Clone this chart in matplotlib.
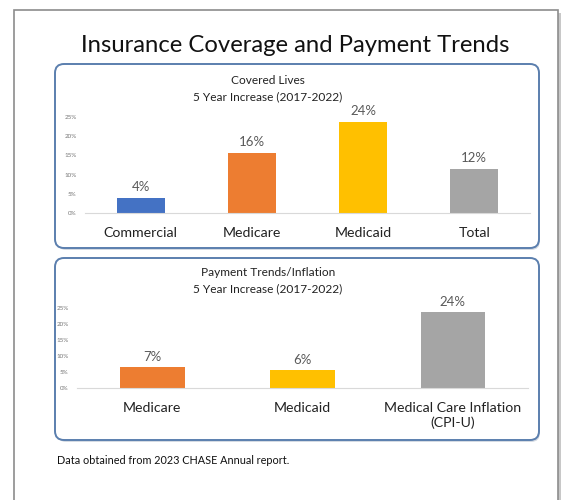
import matplotlib.pyplot as plt
from matplotlib.patches import FancyBboxPatch, Rectangle
from matplotlib.ticker import PercentFormatter

plt.rcParams['font.family'] = ['Lato', 'DejaVu Sans']

# covered lives, 5 year increase
lives_cats = ['Commercial', 'Medicare', 'Medicaid', 'Total']
lives_vals = [3.9, 15.6, 23.7, 11.5]
lives_labels = ['4%', '16%', '24%', '12%']
lives_colors = ['#4472C4', '#ED7D31', '#FFC000', '#A5A5A5']

# payment trends / inflation
pay_cats = ['Medicare', 'Medicaid', 'Medical Care Inflation\n(CPI-U)']
pay_vals = [6.6, 5.6, 23.7]
pay_labels = ['7%', '6%', '24%']
pay_colors = ['#ED7D31', '#FFC000', '#A5A5A5']

ticks = [0, 5, 10, 15, 20, 25]

fig = plt.figure(figsize=(5.76, 5), dpi=100)

# background layer in pixel coords
bg = fig.add_axes([0, 0, 1, 1])
bg.set_xlim(0, 576)
bg.set_ylim(500, 0)
bg.axis('off')
bg.add_patch(Rectangle((17, 13), 544, 500, facecolor='#c8c8c8', edgecolor='none'))
bg.add_patch(Rectangle((14, 10), 544, 500, facecolor='white', edgecolor='#8c8c8c', lw=1.2))
for y0, y1 in [(64, 248), (258, 440)]:
    bg.add_patch(FancyBboxPatch((57, y0 + 2), 483, y1 - y0, boxstyle='round,pad=0,rounding_size=9',
                                facecolor='#d5dbe3', edgecolor='none'))
    bg.add_patch(FancyBboxPatch((55, y0), 484, y1 - y0, boxstyle='round,pad=0,rounding_size=9',
                                facecolor='white', edgecolor='#5b7fae', lw=1.4))
bg.text(295, 45, 'Insurance Coverage and Payment Trends', fontsize=17.2, ha='center', va='center', color='#111111')
bg.text(268, 81, 'Covered Lives', fontsize=8.6, ha='center', va='center', color='#222222')
bg.text(268, 97, '5 Year Increase (2017-2022)', fontsize=8.6, ha='center', va='center', color='#222222')
bg.text(268, 272, 'Payment Trends/Inflation', fontsize=8.6, ha='center', va='center', color='#222222')
bg.text(268, 289, '5 Year Increase (2017-2022)', fontsize=8.6, ha='center', va='center', color='#222222')
bg.text(57, 461, 'Data obtained from 2023 CHASE Annual report.', fontsize=7.8, ha='left', va='center', color='#111111')


def bars(ax, cats, vals, labels, colors):
    x = range(len(cats))
    ax.bar(x, vals, width=0.43, color=colors)
    for i, v in enumerate(vals):
        ax.text(i, v + 1.3, labels[i], ha='center', va='bottom', fontsize=9.5, color='#595959')
    ax.set_xlim(-0.5, len(cats) - 0.5)
    ax.set_ylim(0, 25)
    ax.set_yticks(ticks)
    ax.yaxis.set_major_formatter(PercentFormatter(decimals=0))
    ax.set_xticks(list(x))
    ax.set_xticklabels(cats, fontsize=10.2, color='#222222', linespacing=1.25)
    ax.tick_params(axis='y', labelsize=4.5, labelcolor='#777777', length=0, pad=6)
    ax.tick_params(axis='x', length=0, pad=10)
    ax.patch.set_alpha(0)
    for s in ['top', 'right', 'left']:
        ax.spines[s].set_visible(False)
    ax.spines['bottom'].set_color('#d9d9d9')


ax1 = fig.add_axes([0.1476, 0.574, 0.7724, 0.192])
bars(ax1, lives_cats, lives_vals, lives_labels, lives_colors)

ax2 = fig.add_axes([0.1337, 0.2246, 0.783, 0.1588])
bars(ax2, pay_cats, pay_vals, pay_labels, pay_colors)

fig.savefig('out.png', dpi=100)
